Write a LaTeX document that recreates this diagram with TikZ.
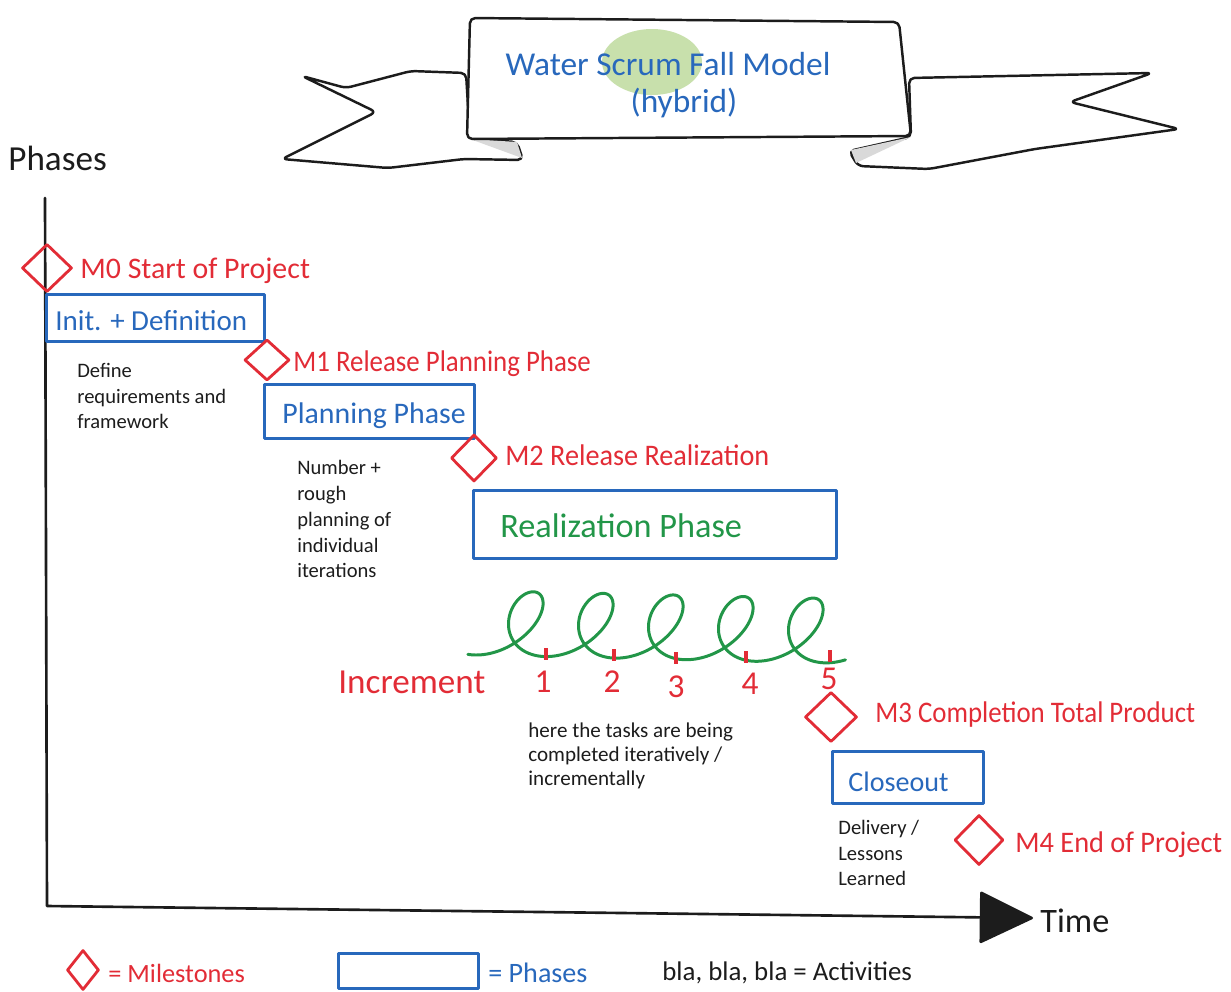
\documentclass[tikz,border=0pt]{standalone}
\usepackage{fontspec}
\usepackage{graphicx}
\setmainfont{Carlito}
\usetikzlibrary{shapes.geometric,arrows.meta}
\definecolor{hred}{RGB}{226,44,54}
\definecolor{hblue}{RGB}{40,104,188}
\definecolor{hgreen}{RGB}{34,150,72}
\definecolor{ink}{RGB}{28,28,28}
\definecolor{leaf}{RGB}{200,224,172}
\def\pxu{0.02cm}
% narrow a label horizontally, keeping its height
\newcommand\squeeze[2]{\scalebox{#1}[1]{#2}}
\begin{document}
\begin{tikzpicture}[x=0.02cm,y=-0.02cm,
  line join=round, line cap=round,
  milestone/.style={diamond, draw=hred, line width=1.6pt, inner sep=0pt, shape aspect=1},
  mslabel/.style={text=hred, font=\fontsize{17}{20}\selectfont, anchor=base west, inner sep=0pt},
  phase/.style={draw=hblue, line width=1.7pt, anchor=north west, inner sep=0pt},
  phasetext/.style={text=hblue, font=\fontsize{16.5}{20}\selectfont, anchor=base west, inner sep=0pt},
  activity/.style={text=ink, align=left, anchor=north west, inner sep=0pt},
  tick/.style={draw=hred, line width=2.6pt, line cap=butt},
  number/.style={text=hred, font=\fontsize{19}{22}\selectfont, anchor=base, inner sep=0pt},
  ribbon/.style={draw=ink, line width=1.4pt, fill=white, rounded corners=3pt}]

\useasboundingbox (0,0) rectangle (1231,991);

% --- title banner ---
\draw[ribbon] (466,73) -- (411,71) -- (346,88) -- (302,76) -- (376,112) -- (282,159)
  -- (388,168) -- (464,159) -- (523,160) -- (517,142) -- (470,139) -- cycle;
\draw[ribbon] (909,78) -- (1152,73) -- (1070,102) -- (1179,129) -- (1035,149)
  -- (929,169) -- (858,166) -- (849,151) -- (911,137) -- cycle;
\fill[black!15] (470,139) -- (517,142) -- (522,158) -- cycle;
\fill[black!15] (911,137) -- (851,150) -- (856,163) -- cycle;
\draw[ribbon] (470,18) -- (899,22) -- (911,136) -- (467,139) -- cycle;
\fill[leaf] (652,62) ellipse [x radius=1.0cm, y radius=0.66cm];
\node[text=hblue, font=\fontsize{19}{22}\selectfont, anchor=base, inner sep=0pt]
  (title1) at (668,75) {Water Scrum Fall Model};
\node[text=hblue, font=\fontsize{19}{22}\selectfont, anchor=base, inner sep=0pt]
  (title2) at (684,112) {(hybrid)};

% --- axes ---
\coordinate (ytop) at (45,198);
\coordinate (origin) at (47,906);
\coordinate (xend) at (1033,918);
\draw[ink, line width=1.5pt, -{Triangle[length=1.1cm, width=1.05cm, round]}]
  (ytop) -- (origin) -- (xend);
\node[text=ink, font=\fontsize{20}{24}\selectfont, anchor=base west, inner sep=0pt]
  (phases) at (8,170) {Phases};
\node[text=ink, font=\fontsize{19.5}{24}\selectfont, anchor=base west, inner sep=0pt]
  (time) at (1040,932) {Time};

% --- phases ---
\node[phase, minimum width=218*\pxu, minimum height=47*\pxu] (initbox) at (45,293) {};
\node[phasetext] (inittext) at (55,330) {Init. + Definition};
\node[phase, minimum width=210*\pxu, minimum height=54*\pxu] (planbox) at (263,383) {};
\node[phasetext, font=\fontsize{17}{20}\selectfont] (plantext) at (282,423) {Planning Phase};
\node[phase, minimum width=363*\pxu, minimum height=68*\pxu] (realbox) at (472,489) {};
\node[phasetext, text=hgreen, font=\fontsize{19.5}{22}\selectfont] (realtext) at (500,537) {Realization Phase};
\node[phase, minimum width=151*\pxu, minimum height=52*\pxu] (closebox) at (831,750) {};
\node[phasetext, font=\fontsize{16}{20}\selectfont] (closetext) at (848,791) {Closeout};

% --- milestones ---
\node[milestone, minimum width=50*\pxu, minimum height=48*\pxu] (m0) at (47,268) {};
\node[mslabel] (m0text) at (80,278) {M0 Start of Project};
\node[milestone, minimum width=45*\pxu, minimum height=41*\pxu] (m1) at (267,360) {};
\node[mslabel] (m1text) at (293,371) {\squeeze{0.9}{M1 Release Planning Phase}};
\node[milestone, minimum width=46*\pxu, minimum height=47*\pxu] (m2) at (474,458) {};
\node[mslabel] (m2text) at (505,465) {\squeeze{0.945}{M2 Release Realization}};
\node[milestone, minimum width=52*\pxu, minimum height=50*\pxu] (m3) at (831,717) {};
\node[mslabel] (m3text) at (875,722) {\squeeze{0.9}{M3 Completion Total Product}};
\node[milestone, minimum width=49*\pxu, minimum height=50*\pxu] (m4) at (979,840) {};
\node[mslabel] (m4text) at (1015,852) {\squeeze{0.95}{M4 End of Project}};

% --- activities ---
\node[activity, font=\fontsize{11.7}{14.5}\selectfont] (act1) at (77,363)
  {Define\\requirements and\\framework};
\node[activity, font=\fontsize{11.7}{14.7}\selectfont] (act2) at (297,460)
  {Number +\\rough\\planning of\\individual\\iterations};
\node[activity, font=\fontsize{12}{13.9}\selectfont] (act3) at (528,722)
  {here the tasks are being\\completed iteratively /\\incrementally};
\node[activity, font=\fontsize{11.7}{14.5}\selectfont] (act4) at (838,820)
  {Delivery /\\Lessons\\Learned};

% --- iterations: leaning looped line with increment marks ---
\draw[hgreen, line width=1.7pt] plot[domain=-0.2:31.87, samples=500, variable=\t]
  ({476 + 11.14*\t + 31*sin(\t r) + 11*(1 - cos(\t r))}, {623 + 32*cos(\t r) + 0.25*\t});
\foreach \n/\x/\y in {1/546/648, 2/614/649, 3/676/652, 4/746/651, 5/830/650}{
  \draw[tick] (\x,\y) -- (\x,\y+12);
}
\node[text=hred, font=\fontsize{20}{24}\selectfont, anchor=base west, inner sep=0pt]
  (increment) at (338,693) {Increment};
\node[number] (n1) at (543,692) {1};
\node[number] (n2) at (612,692) {2};
\node[number] (n3) at (676,697) {3};
\node[number] (n4) at (750,694) {4};
\node[number] (n5) at (829,689) {5};

% --- legend ---
\node[milestone, minimum width=32*\pxu, minimum height=40*\pxu] (legm) at (83,970) {};
\node[mslabel, font=\fontsize{15}{18}\selectfont] (legmtext) at (108,982) {= Milestones};
\node[phase, minimum width=140*\pxu, minimum height=35*\pxu] (legp) at (337,952) {};
\node[phasetext, font=\fontsize{16}{18}\selectfont] (legptext) at (488,982) {= Phases};
\node[text=ink, font=\fontsize{15.3}{18}\selectfont, anchor=base west, inner sep=0pt]
  (legatext) at (662,980) {bla, bla, bla = Activities};
\end{tikzpicture}
\end{document}
